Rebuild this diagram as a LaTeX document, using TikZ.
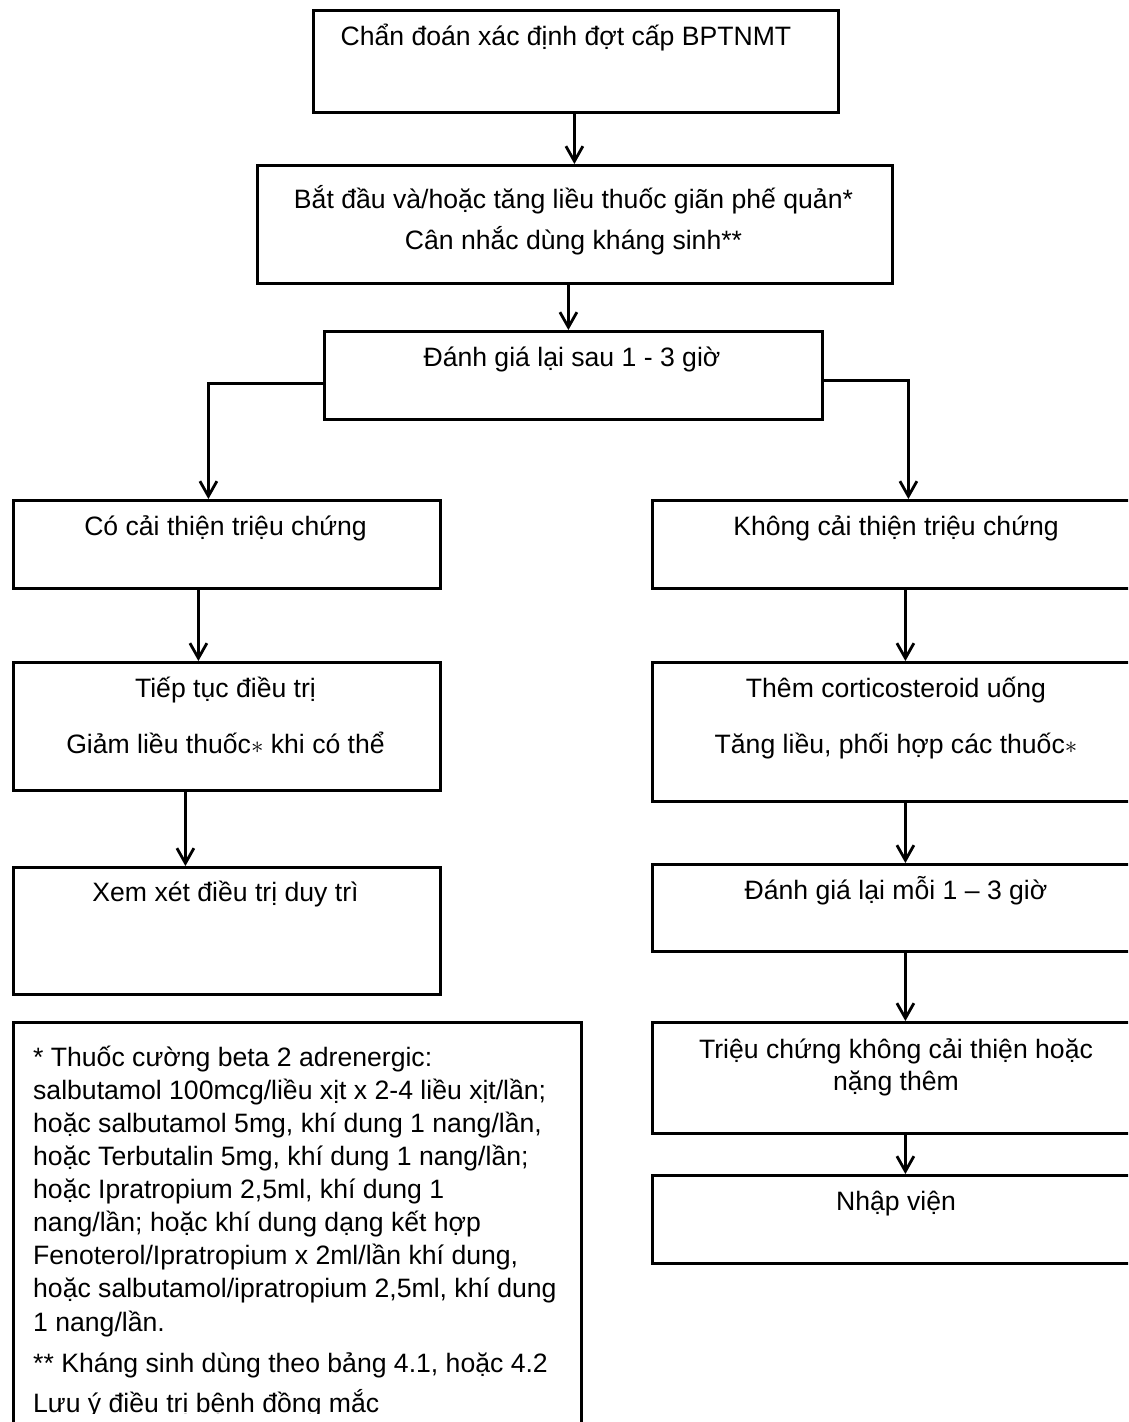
\documentclass[tikz,border=0pt]{standalone}
\usepackage{fontspec}
\setmainfont{Liberation Sans}
\usetikzlibrary{arrows.meta}
\newcommand{\midstar}{{\fontsize{32}{32}\selectfont$\ast$}}
\begin{document}
\begin{tikzpicture}[x=1pt,y=-1pt,
  box/.style={draw, line width=2.8pt, rectangle, inner sep=0pt, anchor=north west},
  txt/.style={font=\fontsize{26.6}{30}\selectfont, inner sep=0pt, anchor=base},
  note/.style={font=\fontsize{26.6}{30}\selectfont, inner sep=0pt, anchor=base west},
  arr/.style={line width=2.8pt, -{Straight Barb[length=15pt,width=17pt,line width=2.8pt]}}]
\clip (0,0) rectangle (1128,1422);
\fill[white] (0,0) rectangle (1128,1422);

% main column
\node[box, minimum width=525pt, minimum height=102pt] (b1) at (312,9) {};
\node[box, minimum width=635pt, minimum height=118pt] (b2) at (256,164) {};
\node[box, minimum width=498pt, minimum height=88pt]  (b3) at (323,330) {};

% left branch
\node[box, minimum width=427pt, minimum height=88pt]  (b4l) at (12,499) {};
\node[box, minimum width=427pt, minimum height=128pt] (b5l) at (12,661) {};
\node[box, minimum width=427pt, minimum height=127pt] (b6l) at (12,866) {};

% right branch
\node[box, minimum width=490pt, minimum height=88pt]  (b4r) at (651,499) {};
\node[box, minimum width=490pt, minimum height=139pt] (b5r) at (651,661) {};
\node[box, minimum width=490pt, minimum height=87pt]  (b6r) at (651,863) {};
\node[box, minimum width=490pt, minimum height=111pt] (b7r) at (651,1021) {};
\node[box, minimum width=490pt, minimum height=88pt]  (b8r) at (651,1174) {};

% footnote box
\node[box, minimum width=568pt, minimum height=420pt] (nb) at (12,1021) {};

% box texts
\node[txt] (t1) at (566,45) {Chẩn đoán xác định đợt cấp BPTNMT};
\node[txt] (t2a) at (573.5,208) {Bắt đầu và/hoặc tăng liều thuốc giãn phế quản*};
\node[txt] (t2b) at (573.5,249) {Cân nhắc dùng kháng sinh**};
\node[txt] (t3) at (572,366) {Đánh giá lại sau 1 - 3 giờ};
\node[txt] (t4l) at (225.5,535) {Có cải thiện triệu chứng};
\node[txt] (t5la) at (225.5,697) {Tiếp tục điều trị};
\node[txt] (t5lb) at (225.5,753) {Giảm liều thuốc\midstar\ khi có thể};
\node[txt] (t6l) at (225.5,901) {Xem xét điều trị duy trì};
\node[txt] (t4r) at (896,535) {Không cải thiện triệu chứng};
\node[txt] (t5ra) at (896,697) {Thêm corticosteroid uống};
\node[txt] (t5rb) at (896,753) {Tăng liều, phối hợp các thuốc\midstar};
\node[txt] (t6r) at (896,899) {Đánh giá lại mỗi 1 – 3 giờ};
\node[txt] (t7ra) at (896,1058) {Triệu chứng không cải thiện hoặc};
\node[txt] (t7rb) at (896,1090) {nặng thêm};
\node[txt] (t8r) at (896,1210) {Nhập viện};

% footnotes
\begin{scope}
\clip (12,1021) rectangle (580,1413.5);
\node[note] (n1) at (33,1066) {* Thuốc cường beta 2 adrenergic:};
\node[note] (n2) at (33,1099) {salbutamol 100mcg/liều xịt x 2-4 liều xịt/lần;};
\node[note] (n3) at (33,1132) {hoặc salbutamol 5mg, khí dung 1 nang/lần,};
\node[note] (n4) at (33,1165) {hoặc Terbutalin 5mg, khí dung 1 nang/lần;};
\node[note] (n5) at (33,1198) {hoặc Ipratropium 2,5ml, khí dung 1};
\node[note] (n6) at (33,1231) {nang/lần; hoặc khí dung dạng kết hợp};
\node[note] (n7) at (33,1264) {Fenoterol/Ipratropium x 2ml/lần khí dung,};
\node[note] (n8) at (33,1297) {hoặc salbutamol/ipratropium 2,5ml, khí dung};
\node[note] (n9) at (33,1331) {1 nang/lần.};
\node[note] (n10) at (33,1372) {** Kháng sinh dùng theo bảng 4.1, hoặc 4.2};
\node[note] (n11) at (33,1412) {Lưu ý điều trị bệnh đồng mắc};
\end{scope}

% connectors
\draw[arr] ([xshift=-1.5pt]b1.south) -- ([xshift=-0.5pt]b2.north);
\draw[arr] ([xshift=-6.5pt]b2.south) -- ([xshift=-5pt]b3.north);
\draw[arr] ([yshift=-8pt]b3.west) -| ([xshift=-18.5pt]b4l.north);
\draw[arr] ([yshift=-5pt]b3.east) -| ([xshift=11pt]b4r.north);
\draw[arr] ([xshift=-28.5pt]b4l.south) -- ([xshift=-28.5pt]b5l.north);
\draw[arr] ([xshift=-41.5pt]b5l.south) -- ([xshift=-41.5pt]b6l.north);
\draw[arr] ([xshift=8pt]b4r.south) -- ([xshift=8pt]b5r.north);
\draw[arr] ([xshift=8pt]b5r.south) -- ([xshift=8pt]b6r.north);
\draw[arr] ([xshift=8pt]b6r.south) -- ([xshift=8pt]b7r.north);
\draw[arr] ([xshift=8pt]b7r.south) -- ([xshift=8pt]b8r.north);
\end{tikzpicture}
\end{document}
